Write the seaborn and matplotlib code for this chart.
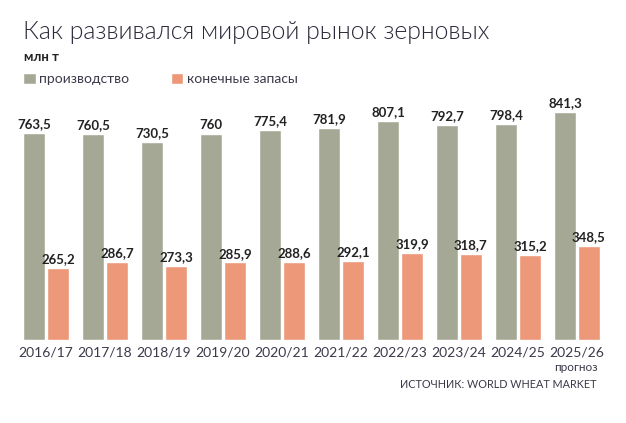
import matplotlib
matplotlib.use("Agg")
import matplotlib.pyplot as plt
import seaborn as sns
import pandas as pd

seasons = ["2016/17", "2017/18", "2018/19", "2019/20", "2020/21",
           "2021/22", "2022/23", "2023/24", "2024/25", "2025/26"]
production = [763.5, 760.5, 730.5, 760, 775.4, 781.9, 807.1, 792.7, 798.4, 841.3]
stocks = [265.2, 286.7, 273.3, 285.9, 288.6, 292.1, 319.9, 318.7, 315.2, 348.5]
series_names = ["производство", "конечные запасы"]
colors = ["#a6a896", "#ec9879"]

df = pd.DataFrame({
    "season": seasons * 2,
    "value": production + stocks,
    "series": [series_names[0]] * len(seasons) + [series_names[1]] * len(seasons),
})

sns.set_theme(style="white")
plt.rcParams["font.family"] = ["Lato", "DejaVu Sans"]

W, H = 626, 423
fig = plt.figure(figsize=(W / 100, H / 100), dpi=100)
ax = fig.add_axes([16.5 / W, 83 / H, 590 / W, 244 / H])

sns.barplot(data=df, x="season", y="value", hue="series", palette=colors,
            width=0.81, gap=0.08, ax=ax, saturation=1, legend=True)

ax.set_xlim(-0.5, 9.5)
ax.set_ylim(0, 900)
for s in ax.spines.values():
    s.set_visible(False)
ax.set_yticks([])
ax.set_xlabel("")
ax.set_ylabel("")
ax.tick_params(axis="x", length=0, pad=5, labelsize=10, labelcolor="#3a3a4a")

fmt = lambda v: f"{v:g}".replace(".", ",")
for cont in ax.containers:
    ax.bar_label(cont, fmt=fmt, padding=2, fontsize=9.5, fontweight="bold", color="#222222")

sns.move_legend(ax, loc="center left", bbox_to_anchor=(23 / W, 1 - 79 / H),
                bbox_transform=fig.transFigure, ncol=2, frameon=False, title=None,
                fontsize=10, handlelength=0.9, handleheight=0.9, handletextpad=0.25,
                columnspacing=3.0, borderaxespad=0, borderpad=0)
for t in ax.get_legend().get_texts():
    t.set_color("#3a3a4a")

fig.text(23 / W, 1 - 32 / H, "Как развивался мировой рынок зерновых",
         fontsize=17.9, fontweight=300, color="#2a2a3a", va="center", ha="left")
fig.text(24 / W, 1 - 57 / H, "млн т", fontsize=9.5, fontweight="bold",
         color="#222222", va="center", ha="left")
fig.text(575.5 / W, 1 - 367 / H, "прогноз", fontsize=8.5, color="#3a3a4a",
         va="center", ha="center")
fig.text(597 / W, 1 - 384 / H, "ИСТОЧНИК: WORLD WHEAT MARKET", fontsize=7.8,
         color="#3a3a4a", va="center", ha="right")

fig.savefig("out.png", dpi=100)
